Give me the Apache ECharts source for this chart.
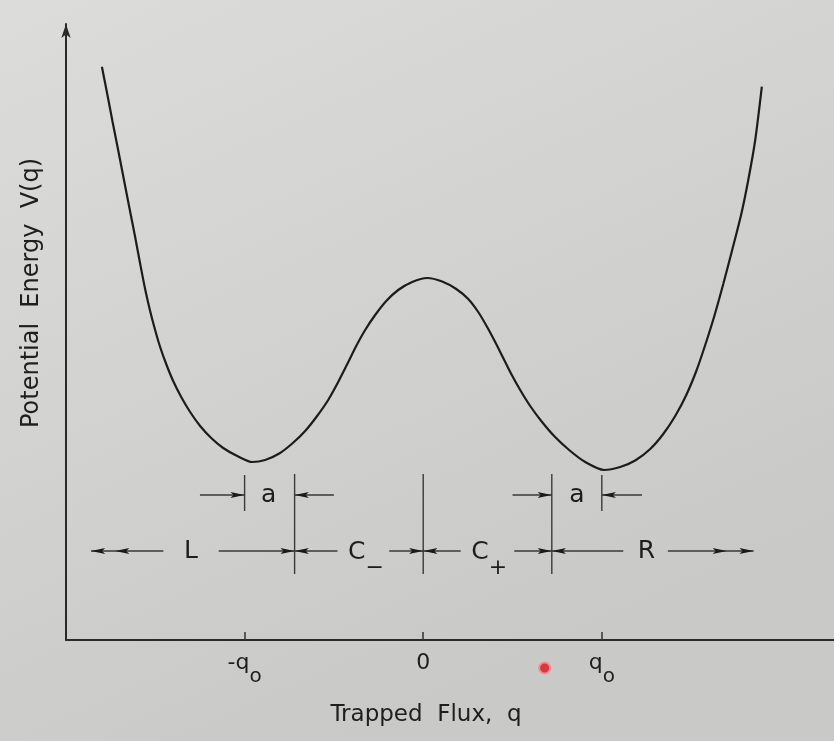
<!DOCTYPE html>
<html>
<head>
<meta charset="utf-8">
<script src="https://cdn.jsdelivr.net/npm/echarts@6/dist/echarts.min.js"></script>
<style>html,body{margin:0;padding:0;background:#d6d6d4;}#c{width:834px;height:741px;}</style>
</head>
<body>
<div id="c"></div>
<script>
// ---- Data (flux q in units of q0, energy V in arbitrary units) ----
const qCurve = [-1.799,-1.769,-1.739,-1.708,-1.677,-1.646,-1.615,-1.585,-1.557,-1.529,-1.501,-1.473,-1.439,-1.400,-1.355,-1.305,-1.249,-1.187,-1.120,-1.041,-0.957,
  -0.885,-0.806,-0.733,-0.661,-0.594,-0.532,-0.476,-0.425,-0.375,-0.325,-0.269,-0.207,-0.140,-0.062,0.022,
  0.106,0.185,0.252,0.308,0.358,0.403,0.448,0.493,0.543,0.599,0.661,0.733,0.817,0.907,1.013,
  1.103,1.187,1.271,1.344,1.411,1.473,1.529,1.579,1.630,1.680,1.730,1.781,1.820,1.859,1.896];
const vCurve = [5.733,5.46,5.18,4.90,4.615,4.33,4.05,3.765,3.51,3.29,3.10,2.93,2.76,2.59,2.43,2.28,2.14,2.02,1.92,1.84,1.78,
  1.80,1.865,1.965,2.09,2.24,2.40,2.58,2.76,2.94,3.10,3.25,3.39,3.50,3.58,3.62,
  3.585,3.51,3.41,3.28,3.13,2.98,2.82,2.66,2.50,2.34,2.19,2.04,1.90,1.78,1.70,
  1.73,1.795,1.91,2.06,2.24,2.45,2.69,2.95,3.24,3.56,3.90,4.26,4.60,5.00,5.533];

const tickValues = [-1, 0, 1];
const tickLabels = ['-q0', '0', 'q0'];

// region boundaries (q0 - a) and minima (+-q0)
const boundaries = [-0.72, 0, 0.72];
const minima = [-1, 1];
const boundaryTopV = 1.66, boundaryBottomV = 0.66;
const barTopV = 1.65, barBottomV = 1.29;

// horizontal dimension lines [qStart, qEnd, V]
const dimLines = [
  [-1.25, -1.0, 1.45], [-0.72, -0.50, 1.45], [0.50, 0.72, 1.45], [1.0, 1.225, 1.45],
  [-1.86, -1.455, 0.89], [-1.145, -0.72, 0.89], [-0.72, -0.48, 0.89], [-0.19, 0, 0.89],
  [0, 0.21, 0.89], [0.51, 0.72, 0.89], [0.72, 1.12, 0.89], [1.37, 1.85, 0.89]
];
// arrowheads [q, V, direction(+1 right / -1 left)]
const arrowHeads = [
  [-1.04, 1.45, 1], [-0.68, 1.45, -1], [0.68, 1.45, 1], [1.04, 1.45, -1],
  [-1.82, 0.89, -1], [-1.685, 0.89, -1], [-0.76, 0.89, 1], [-0.68, 0.89, -1],
  [-0.04, 0.89, 1], [0.04, 0.89, -1], [0.68, 0.89, 1], [0.76, 0.89, -1],
  [1.66, 0.89, 1], [1.81, 0.89, 1]
];
// region labels [q, V, text]
const regionLabels = [
  [-1.30, 0.89, 'L'], [-0.32, 0.89, 'C|−'], [0.37, 0.89, 'C|+'], [1.25, 0.89, 'R'],
  [-0.865, 1.45, 'a'], [0.86, 1.45, 'a']
];
const pointerDot = [[0.68, -0.28]];

// ---- build ----
const curveData = qCurve.map((q, i) => [q, vCurve[i]]);
const segs = [];
dimLines.forEach(d => { segs.push([d[0], d[2]], [d[1], d[2]], [null, null]); });
boundaries.forEach(b => { segs.push([b, boundaryTopV], [b, boundaryBottomV], [null, null]); });
minima.forEach(m => { segs.push([m, barTopV], [m, barBottomV], [null, null]); });

const labelData = regionLabels.map(r => ({
  value: r,
  label: {offset: [0, r[2].indexOf('|') >= 0 ? 17 : 2]}
}));

const FONT = 'DejaVu Sans';
const INK = '#1e1e1e';

function tickFmt(v) {
  const i = tickValues.findIndex(t => Math.abs(t - v) < 1e-9);
  if (i < 0) return '';
  const s = tickLabels[i];
  if (s.endsWith('q0')) return '{q|' + s.slice(0, -1) + '}{s|o}';
  return '{q|' + s + '}';
}

const chart = echarts.init(document.getElementById('c'), null, {renderer: 'canvas'});
chart.setOption({
  backgroundColor: {
    type: 'linear', x: 0, y: 0, x2: 0.4, y2: 1,
    colorStops: [{offset: 0, color: '#dcdcda'}, {offset: 1, color: '#c9c9c7'}]
  },
  animation: false,
  textStyle: {fontFamily: FONT},
  grid: {left: 66, right: 0, top: 24, bottom: 101},
  xAxis: {
    type: 'value', min: -2, max: 2.3,
    name: 'Trapped  Flux,  q', nameLocation: 'middle', nameGap: 64,
    nameTextStyle: {fontSize: 23, color: INK, fontFamily: FONT, padding: [0, 48, 0, 0]},
    axisLine: {onZero: false, lineStyle: {color: '#2a2a2a', width: 2}},
    axisTick: {show: true, inside: true, length: 8, customValues: tickValues, lineStyle: {color: '#333', width: 1.5}},
    axisLabel: {
      customValues: tickValues, formatter: tickFmt, margin: 12,
      rich: {
        q: {fontSize: 22, color: INK, fontFamily: FONT, lineHeight: 26, verticalAlign: 'top'},
        s: {fontSize: 20, color: INK, fontFamily: FONT, lineHeight: 50, verticalAlign: 'middle'}
      }
    },
    splitLine: {show: false}
  },
  yAxis: {
    type: 'value', min: 0, max: 6.16,
    name: 'Potential  Energy  V(q)', nameLocation: 'middle', nameGap: 22, nameRotate: 90,
    nameTextStyle: {fontSize: 24, color: INK, fontFamily: FONT, padding: [0, 0, 0, 78]},
    axisLine: {onZero: false, lineStyle: {color: '#2a2a2a', width: 2}, symbol: ['none', 'arrow'], symbolSize: [7, 14]},
    axisTick: {show: false}, axisLabel: {show: false}, splitLine: {show: false}
  },
  series: [
    {
      type: 'line', name: 'V(q)', data: curveData, smooth: 0.25, showSymbol: false,
      lineStyle: {color: '#1c1c1c', width: 2.2}, silent: true, z: 3
    },
    {
      type: 'line', name: 'dimensions', data: segs, showSymbol: false, connectNulls: false,
      lineStyle: {color: '#3a3a3a', width: 1.4}, silent: true, z: 2
    },
    {
      type: 'scatter', name: 'arrows', data: arrowHeads,
      symbol: 'path://M0,0 L14,2.5 L0,5 L3,2.5 Z', symbolKeepAspect: false, symbolSize: [14, 6],
      symbolRotate: (v) => v[2] > 0 ? 0 : 180,
      itemStyle: {color: '#1a1a1a', opacity: 1}, silent: true, z: 4
    },
    {
      type: 'scatter', name: 'labels', data: labelData, symbolSize: 0, silent: true, z: 5,
      itemStyle: {opacity: 1},
      label: {
        show: true, position: 'inside', color: INK, opacity: 1, textBorderWidth: 0, textBorderColor: 'transparent',
        formatter: (p) => {
          const t = p.value[2];
          if (t.indexOf('|') >= 0) { const [a, b] = t.split('|'); return '{c|' + a + '}{s|' + b + '}'; }
          return '{c|' + t + '}';
        },
        rich: {
          c: {fontSize: 25, color: INK, fontFamily: FONT, lineHeight: 28, verticalAlign: 'top', textBorderWidth: 0},
          s: {fontSize: 22, color: INK, fontFamily: FONT, lineHeight: 56, verticalAlign: 'middle', textBorderWidth: 0}
        }
      }
    },
    {
      type: 'scatter', name: 'pointer', data: pointerDot, clip: false, symbolSize: 11,
      itemStyle: {color: '#d9383d', borderColor: '#ee8f8f', borderWidth: 2, opacity: 1}, silent: true, z: 6
    }
  ]
});
</script>
</body>
</html>
